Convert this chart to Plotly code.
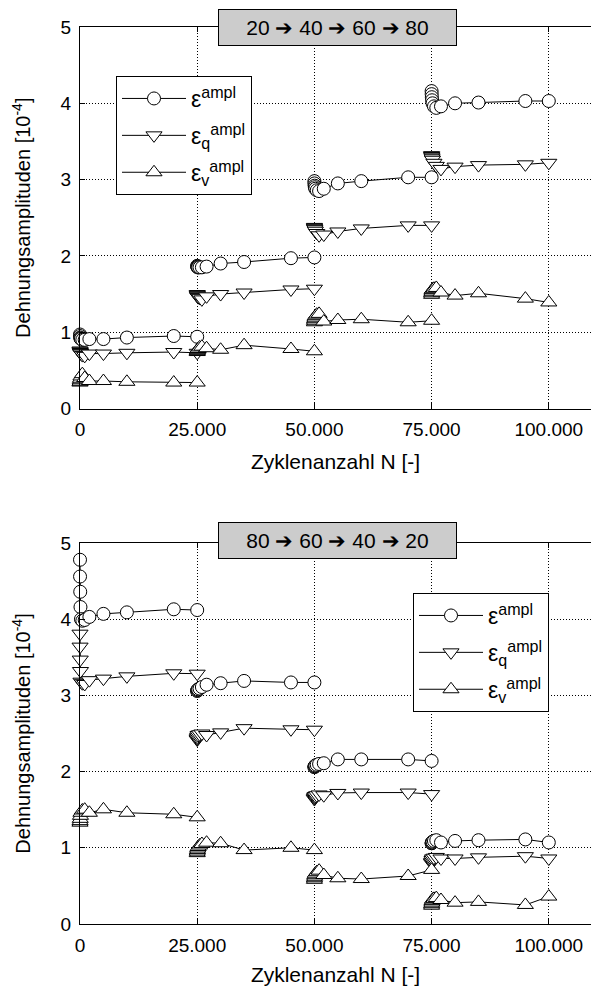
import plotly.graph_objects as go

# cycle offsets within each loading stage and stage starts
OFFSETS = [1, 10, 50, 100, 200, 500, 1000, 2000, 5000, 10000, 20000, 25000]
STAGE_STARTS = [0, 25000, 50000, 75000]

# ---- top chart: 20 -> 40 -> 60 -> 80 ----
top_eps = [
    [0.97, 0.95, 0.93, 0.92, 0.91, 0.90, 0.90, 0.91, 0.91, 0.93, 0.95, 0.94],
    [1.87, 1.86, 1.86, 1.85, 1.85, 1.85, 1.85, 1.86, 1.90, 1.92, 1.97, 1.98],
    [2.98, 2.95, 2.92, 2.90, 2.88, 2.86, 2.85, 2.88, 2.95, 2.98, 3.03, 3.03],
    [4.16, 4.12, 4.08, 4.04, 4.00, 3.96, 3.94, 3.96, 4.00, 4.01, 4.03, 4.03],
]
top_epsq = [
    [0.76, 0.75, 0.74, 0.73, 0.72, 0.70, 0.69, 0.72, 0.72, 0.73, 0.74, 0.73],
    [1.50, 1.49, 1.48, 1.47, 1.46, 1.45, 1.43, 1.47, 1.50, 1.52, 1.56, 1.57],
    [2.38, 2.37, 2.36, 2.35, 2.33, 2.30, 2.27, 2.28, 2.32, 2.36, 2.40, 2.40],
    [3.32, 3.31, 3.30, 3.28, 3.26, 3.22, 3.18, 3.14, 3.17, 3.19, 3.20, 3.22],
]
top_epsv = [
    [0.34, 0.35, 0.37, 0.39, 0.42, 0.45, 0.40, 0.36, 0.36, 0.35, 0.34, 0.34],
    [0.74, 0.75, 0.76, 0.77, 0.78, 0.80, 0.81, 0.79, 0.77, 0.83, 0.78, 0.75],
    [1.13, 1.15, 1.17, 1.19, 1.21, 1.23, 1.24, 1.14, 1.16, 1.17, 1.13, 1.15],
    [1.49, 1.51, 1.53, 1.55, 1.56, 1.57, 1.58, 1.52, 1.48, 1.51, 1.44, 1.39],
]

# ---- bottom chart: 80 -> 60 -> 40 -> 20 ----
bot_eps = [
    [4.78, 4.56, 4.36, 4.16, 4.00, 3.98, 3.99, 4.03, 4.07, 4.09, 4.13, 4.12],
    [3.06, 3.06, 3.07, 3.07, 3.08, 3.09, 3.11, 3.14, 3.16, 3.19, 3.17, 3.17],
    [2.06, 2.06, 2.07, 2.07, 2.08, 2.09, 2.10, 2.11, 2.16, 2.16, 2.16, 2.14],
    [1.06, 1.06, 1.07, 1.07, 1.08, 1.09, 1.10, 1.07, 1.09, 1.10, 1.11, 1.07],
]
bot_epsq = [
    [3.81, 3.64, 3.47, 3.32, 3.18, 3.16, 3.15, 3.20, 3.22, 3.25, 3.29, 3.285],
    [2.42, 2.43, 2.44, 2.46, 2.48, 2.49, 2.50, 2.48, 2.515, 2.57, 2.555, 2.55],
    [1.64, 1.65, 1.66, 1.67, 1.68, 1.69, 1.70, 1.69, 1.72, 1.725, 1.725, 1.705],
    [0.80, 0.81, 0.82, 0.84, 0.86, 0.87, 0.88, 0.86, 0.86, 0.875, 0.89, 0.86],
]
bot_epsv = [
    [1.33, 1.35, 1.38, 1.42, 1.46, 1.49, 1.50, 1.46, 1.505, 1.46, 1.44, 1.40],
    [0.93, 0.95, 0.97, 0.99, 1.01, 1.03, 1.05, 1.067, 1.06, 0.97, 1.00, 0.97],
    [0.58, 0.60, 0.62, 0.64, 0.66, 0.68, 0.70, 0.643, 0.60, 0.59, 0.63, 0.71],
    [0.24, 0.26, 0.28, 0.30, 0.32, 0.33, 0.34, 0.315, 0.28, 0.29, 0.25, 0.36],
]

X_TICKS = [0, 25000, 50000, 75000, 100000]
X_TICKTEXT = ["0", "25.000", "50.000", "75.000", "100.000"]
Y_TICKS = [0, 1, 2, 3, 4, 5]
SERIES_NAMES = ["ε<sup>ampl</sup>", "ε<sub>q</sub><sup>ampl</sup>", "ε<sub>v</sub><sup>ampl</sup>"]
SYMBOLS = ["circle", "triangle-down", "triangle-up"]
TITLES = ["20 ➔ 40 ➔ 60 ➔ 80", "80 ➔ 60 ➔ 40 ➔ 20"]

FONT = "Liberation Sans, Arial, sans-serif"


def build_xy(stage_vals):
    xs, ys = [], []
    for s, vals in zip(STAGE_STARTS, stage_vals):
        xs += [s + o for o in OFFSETS] + [None]
        ys += list(vals) + [None]
    return xs, ys


fig = go.Figure()

charts = [
    (top_eps, top_epsq, top_epsv, "x", "y", "legend"),
    (bot_eps, bot_epsq, bot_epsv, "x2", "y2", "legend2"),
]
for eps, epsq, epsv, xa, ya, lg in charts:
    for i, (name, sym, data) in enumerate(zip(SERIES_NAMES, SYMBOLS, [eps, epsq, epsv])):
        xs, ys = build_xy(data)
        size = 13 if sym == "circle" else 14
        fig.add_trace(go.Scatter(
            x=xs, y=ys, xaxis=xa, yaxis=ya, legend=lg, name=name,
            legendgroup=f"{lg}_{i}",
            mode="lines+markers", connectgaps=False, cliponaxis=False,
            line=dict(color="black", width=1),
            marker=dict(symbol=sym, size=size,
                        color="white", line=dict(color="black", width=1)),
        ))

axis_common = dict(
    showline=True, linecolor="black", linewidth=1.3,
    ticks="inside", ticklen=5, tickcolor="black", tickwidth=1,
    showgrid=True, gridcolor="black", gridwidth=1, griddash="1px,2px",
    zeroline=False, tickfont=dict(family=FONT, size=19, color="black"),
    ticklabelstandoff=4,
)

top_dom = [(924 - 408.5) / 897, 1.0]
bot_dom = [0.0, (924 - 543) / 897]

xcommon = dict(axis_common, range=[0, 109000], tickvals=X_TICKS, ticktext=X_TICKTEXT,
               mirror="ticks",
               title=dict(text="Zyklenanzahl N [-]", font=dict(family=FONT, size=21, color="black"),
                          standoff=14))
ycommon = dict(axis_common, range=[0, 5], tickvals=Y_TICKS, mirror=False,
               title=dict(text="Dehnungsamplituden [10<sup>-4</sup>]",
                          font=dict(family=FONT, size=20, color="black"), standoff=24))

legend_common = dict(
    bgcolor="white", bordercolor="black", borderwidth=1,
    font=dict(family=FONT, size=23, color="black"),
    xanchor="left", yanchor="top", itemclick=False, itemwidth=64,
    tracegroupgap=4,
)

fig.update_layout(
    width=591, height=986,
    margin=dict(l=80, r=0, t=27, b=62),
    paper_bgcolor="white", plot_bgcolor="white",
    font=dict(family=FONT, color="black"),
    xaxis=dict(xcommon, anchor="y", domain=[0, 1]),
    yaxis=dict(ycommon, anchor="x", domain=top_dom),
    xaxis2=dict(xcommon, anchor="y2", domain=[0, 1]),
    yaxis2=dict(ycommon, anchor="x2", domain=bot_dom),
    legend=dict(legend_common, x=(116 - 80) / 511, y=(924 - 76) / 897),
    legend2=dict(legend_common, x=(413 - 80) / 511, y=(924 - 593) / 897),
    showlegend=True,
)

for title, yc in zip(TITLES, [(924 - 27) / 897, (924 - 540.5) / 897]):
    fig.add_annotation(
        text=title, xref="paper", yref="paper", x=(337.5 - 80) / 511, y=yc,
        xanchor="center", yanchor="middle", showarrow=False,
        font=dict(family=FONT, size=21, color="black"),
        bgcolor="#cccccc", bordercolor="black", borderwidth=1,
        width=235, height=33, borderpad=1,
    )

fig.write_html("out.html", config={"displayModeBar": False},
               post_script="document.body.style.margin='0';")
